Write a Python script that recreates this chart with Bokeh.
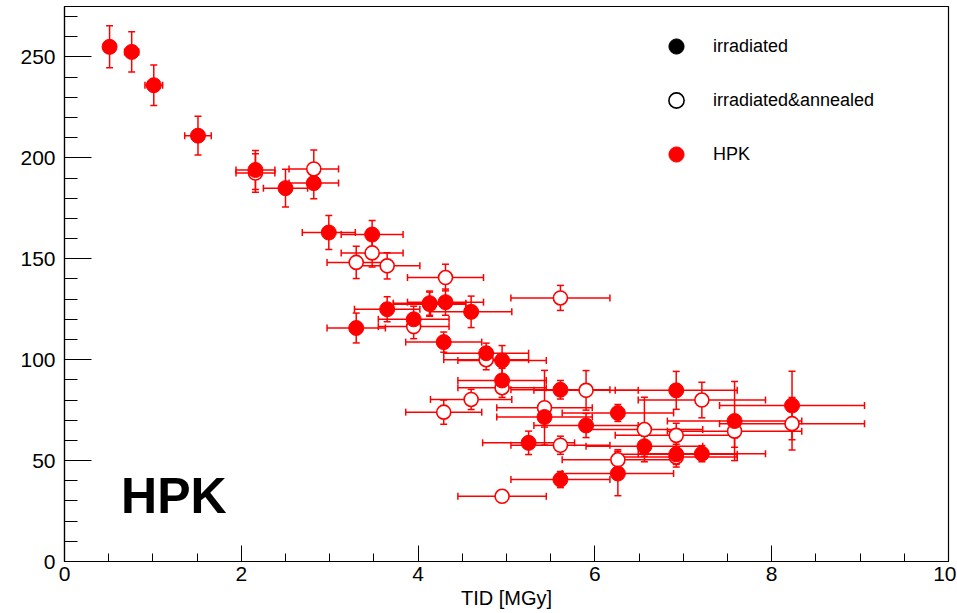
from bokeh.plotting import figure
from bokeh.models import (Whisker, TeeHead, ColumnDataSource, Legend, LegendItem,
                          Label, Range1d, FixedTicker)
from bokeh.embed import file_html
from bokeh.resources import INLINE

NaN = float("nan")

# ---- data: irradiated (filled) ----
irr_tid = [0.51, 0.76, 1.01, 1.51, 2.16, 2.50, 2.82, 2.99, 3.48, 3.30, 3.65, 3.95, 4.13,
           4.31, 4.60, 4.29, 4.77, 4.95, 4.95, 5.61, 5.43, 5.25, 5.61, 5.90, 6.26, 6.26,
           6.56, 6.92, 6.92, 7.21, 7.58, 8.23]
irr_val = [255, 252.5, 236, 211, 194, 185, 187.5, 163, 162, 115.7, 125, 120, 128,
           128.5, 123.7, 108.7, 103.2, 99.6, 89.7, 85.1, 71.6, 58.8, 40.6, 67.4, 73.6, 43.6,
           57.1, 84.8, 53.1, 53.4, 69.6, 77.3]
irr_tid_err = [0.05, 0.08, 0.10, 0.15, 0.22, 0.25, 0.28, 0.30, 0.35, 0.33, 0.37, 0.40, 0.41,
               0.43, 0.46, 0.43, 0.48, 0.50, 0.50, 0.56, 0.54, 0.52, 0.56, 0.59, 0.63, 0.63,
               0.66, 0.69, 0.69, 0.72, 0.76, 0.82]
irr_val_err = [10.4, 10, 10, 9.6, 9.7, 9.4, 7.8, 8.4, 7, 7.4, 6.2, 6.5, 6,
               6.5, 7.8, 5, 5, 7.4, 6, 4.6, 5, 5.8, 4, 6, 4.2, 11,
               5, 9.4, 5, 4, 19.6, 17]

# ---- data: irradiated & annealed (open) ----
ann_tid = [2.16, 2.82, 3.30, 3.48, 3.65, 4.31, 5.61, 3.95, 4.13, 4.77, 4.95, 5.90,
           4.60, 4.29, 5.43, 5.61, 6.56, 7.21, 8.23, 7.58, 6.92, 6.92, 6.26, 4.95]
ann_val = [192.5, 194.5, 148.2, 152.9, 146.5, 140.7, 130.6, 116.4, 127.5, 100.0, 86.1, 84.8,
           80.3, 74.0, 76.2, 57.6, 65.4, 80.0, 68.3, 64.6, 62.5, 51.8, 50.4, 32.3]
ann_tid_err = [0.22, 0.28, 0.33, 0.35, 0.37, 0.43, 0.56, 0.40, 0.41, 0.48, 0.50, 0.59,
               0.46, 0.43, 0.54, 0.56, 0.66, 0.72, 0.82, 0.76, 0.69, 0.69, 0.63, 0.50]
ann_val_err = [9.5, 9.4, 8, 7, 6.5, 6.6, 6.2, 6, 6, 5, 4.8, 9.8,
               5, 6, 18.5, 4.5, 16, 8.8, 13, 8, 6, 5, 5, 3]

x_ticks = [0, 2, 4, 6, 8, 10]
y_ticks = [0, 50, 100, 150, 200, 250]
legend_labels = ["irradiated", "irradiated&annealed", "HPK"]
FONT = "Liberation Sans"
RED = "#ff0000"


def make_source(xs, ys, xe, ye):
    return ColumnDataSource(data=dict(
        x=xs, y=ys,
        xl=[a - b for a, b in zip(xs, xe)], xu=[a + b for a, b in zip(xs, xe)],
        yl=[a - b for a, b in zip(ys, ye)], yu=[a + b for a, b in zip(ys, ye)],
    ))


src_irr = make_source(irr_tid, irr_val, irr_tid_err, irr_val_err)
src_ann = make_source(ann_tid, ann_val, ann_tid_err, ann_val_err)

p = figure(frame_width=884, frame_height=555,
           min_border_left=64, min_border_right=8, min_border_top=6, min_border_bottom=50,
           x_range=Range1d(0, 10), y_range=Range1d(0, 275.0),
           output_backend="svg", toolbar_location=None)
p.background_fill_color = "white"
p.border_fill_color = "white"
p.outline_line_color = "black"
p.outline_line_width = 1.2
p.xgrid.visible = False
p.ygrid.visible = False

p.xaxis.ticker = FixedTicker(ticks=x_ticks, minor_ticks=[0.5 * i for i in range(21)])
p.yaxis.ticker = FixedTicker(ticks=y_ticks, minor_ticks=list(range(0, 271, 10)))
for ax in (p.xaxis, p.yaxis):
    ax.axis_line_color = "black"
    ax.axis_line_width = 1.2
    ax.major_tick_line_color = "black"
    ax.minor_tick_line_color = "black"
    ax.major_tick_out = 0
    ax.minor_tick_out = 0
    ax.major_label_text_font = FONT
    ax.major_label_text_font_size = "21px"
    ax.major_label_text_color = "black"
p.xaxis.major_tick_in = 16
p.xaxis.minor_tick_in = 8
p.yaxis.major_tick_in = 27
p.yaxis.minor_tick_in = 13
p.xaxis.major_label_standoff = 5
p.yaxis.major_label_standoff = 9
p.xaxis.axis_label = "TID [MGy]"
p.xaxis.axis_label_text_font = FONT
p.xaxis.axis_label_text_font_style = "normal"
p.xaxis.axis_label_text_font_size = "20px"
p.xaxis.axis_label_text_color = "black"
p.xaxis.axis_label_standoff = 3

# error bars
for src in (src_ann, src_irr):
    p.add_layout(Whisker(source=src, base="x", lower="yl", upper="yu", dimension="height",
                         line_color=RED, line_width=1.5,
                         lower_head=TeeHead(size=7, line_color=RED, line_width=1.5),
                         upper_head=TeeHead(size=7, line_color=RED, line_width=1.5)))
    p.add_layout(Whisker(source=src, base="y", lower="xl", upper="xu", dimension="width",
                         line_color=RED, line_width=1.5,
                         lower_head=TeeHead(size=7, line_color=RED, line_width=1.5),
                         upper_head=TeeHead(size=7, line_color=RED, line_width=1.5)))

p.scatter("x", "y", source=src_ann, marker="circle", size=14,
          fill_color="white", line_color=RED, line_width=1.6)
p.scatter("x", "y", source=src_irr, marker="circle", size=15,
          fill_color=RED, line_color=RED)

# legend (renderers holding no visible point, only used for the symbols)
l1 = p.scatter([NaN], [NaN], marker="circle", size=15, fill_color="black", line_color="black")
l2 = p.scatter([NaN], [NaN], marker="circle", size=15, fill_color="white", line_color="black",
               line_width=1.6)
l3 = p.scatter([NaN], [NaN], marker="circle", size=15, fill_color=RED, line_color=RED)
legend = Legend(items=[LegendItem(label=legend_labels[0], renderers=[l1]),
                       LegendItem(label=legend_labels[1], renderers=[l2]),
                       LegendItem(label=legend_labels[2], renderers=[l3])],
                location=(593, 388), glyph_width=38, glyph_height=38, label_height=38,
                spacing=16, padding=0, margin=0, label_standoff=18,
                label_text_font=FONT, label_text_font_size="18px", label_text_color="black",
                border_line_alpha=0, background_fill_alpha=0)
p.add_layout(legend)

p.add_layout(Label(x=0.64, y=32.5, text="HPK", text_font=FONT, text_font_style="bold",
                   text_font_size="50px", text_color="black", text_baseline="alphabetic"))

open("out.html", "w").write(file_html(p, INLINE))
